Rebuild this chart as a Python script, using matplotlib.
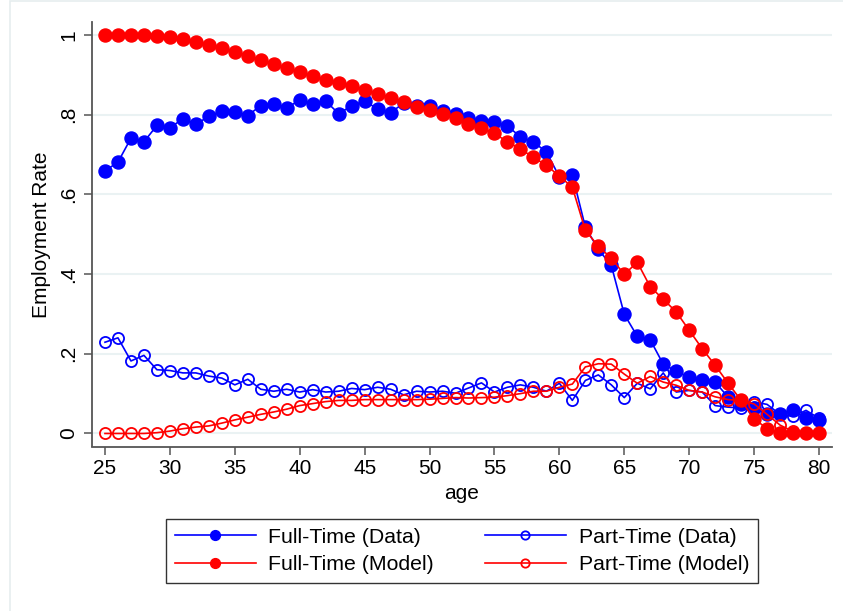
import matplotlib
matplotlib.use("Agg")
import matplotlib.pyplot as plt
from matplotlib.patches import Rectangle

ages = list(range(25, 81))

ft_data = [0.659, 0.681, 0.741, 0.732, 0.773, 0.767, 0.790, 0.776, 0.796, 0.809,
           0.808, 0.798, 0.823, 0.827, 0.818, 0.836, 0.827, 0.834, 0.803, 0.822,
           0.835, 0.814, 0.805, 0.829, 0.823, 0.822, 0.809, 0.803, 0.792, 0.783,
           0.781, 0.771, 0.745, 0.731, 0.707, 0.644, 0.649, 0.518, 0.462, 0.422,
           0.299, 0.244, 0.235, 0.174, 0.156, 0.141, 0.133, 0.129, 0.091, 0.075,
           0.063, 0.048, 0.050, 0.059, 0.038, 0.033]

ft_model = [1.000, 1.000, 1.000, 1.000, 0.998, 0.994, 0.989, 0.982, 0.975, 0.968,
            0.957, 0.948, 0.937, 0.927, 0.916, 0.906, 0.897, 0.887, 0.880, 0.873,
            0.863, 0.853, 0.843, 0.832, 0.820, 0.811, 0.803, 0.791, 0.776, 0.766,
            0.753, 0.732, 0.714, 0.693, 0.673, 0.646, 0.618, 0.510, 0.470, 0.440,
            0.399, 0.430, 0.368, 0.337, 0.305, 0.259, 0.213, 0.171, 0.126, 0.083,
            0.037, 0.012, 0.001, 0.001, 0.000, 0.000]

pt_data = [0.229, 0.240, 0.182, 0.196, 0.160, 0.158, 0.152, 0.152, 0.144, 0.139,
           0.122, 0.136, 0.111, 0.106, 0.111, 0.104, 0.110, 0.104, 0.106, 0.113,
           0.110, 0.116, 0.111, 0.097, 0.106, 0.104, 0.106, 0.101, 0.114, 0.127,
           0.104, 0.116, 0.122, 0.116, 0.106, 0.126, 0.083, 0.133, 0.147, 0.122,
           0.090, 0.126, 0.112, 0.152, 0.104, 0.108, 0.104, 0.070, 0.066, 0.064,
           0.079, 0.073, 0.048, 0.043, 0.058, 0.038]

pt_model = [0.000, 0.000, 0.000, 0.000, 0.002, 0.006, 0.012, 0.016, 0.019, 0.026,
            0.034, 0.041, 0.048, 0.054, 0.061, 0.070, 0.075, 0.080, 0.083, 0.083,
            0.085, 0.085, 0.085, 0.085, 0.085, 0.086, 0.088, 0.090, 0.089, 0.090,
            0.091, 0.095, 0.100, 0.106, 0.106, 0.116, 0.124, 0.167, 0.175, 0.174,
            0.149, 0.126, 0.143, 0.129, 0.121, 0.108, 0.104, 0.092, 0.085, 0.083,
            0.074, 0.048, 0.021, 0.005, 0.002, 0.000]

x_ticks = [25, 30, 35, 40, 45, 50, 55, 60, 65, 70, 75, 80]
y_ticks = [0, 0.2, 0.4, 0.6, 0.8, 1.0]
y_ticklabels = ["0", ".2", ".4", ".6", ".8", "1"]

plt.rcParams['font.family'] = ['Liberation Sans', 'DejaVu Sans']

fig = plt.figure(figsize=(8.43, 6.11), dpi=100)
fig.patches.append(Rectangle((10 / 843, -0.05), 1.2, 1 - 1 / 611 + 0.05,
                             transform=fig.transFigure, fill=False,
                             edgecolor='#e6edef', linewidth=1.2))

ax = fig.add_axes([92 / 843, 1 - 446.5 / 611, (832 - 92) / 843, (446.5 - 22) / 611])

BLUE = '#0000ff'
RED = '#ff0000'
lw = 1.2
ax.plot(ages, ft_data, color=BLUE, lw=lw, marker='o', ms=9.4, mfc=BLUE, mec=BLUE,
        label='Full-Time (Data)', zorder=3)
ax.plot(ages, pt_data, color=BLUE, lw=lw, marker='o', ms=8.0, mfc='none', mec=BLUE,
        mew=1.3, label='Part-Time (Data)', zorder=3)
ax.plot(ages, ft_model, color=RED, lw=lw, marker='o', ms=9.4, mfc=RED, mec=RED,
        label='Full-Time (Model)', zorder=4)
ax.plot(ages, pt_model, color=RED, lw=lw, marker='o', ms=8.0, mfc='none', mec=RED,
        mew=1.3, label='Part-Time (Model)', zorder=4)

ax.set_xlim(24.0, 81.0)
ax.set_ylim(-0.0327, 1.0327)
ax.set_xticks(x_ticks)
ax.set_yticks(y_ticks)
ax.set_yticklabels(y_ticklabels, rotation=90, va='center')
ax.tick_params(axis='both', labelsize=15, length=6, width=1.1, color='#555555', direction='out')
ax.tick_params(axis='y', pad=4)
ax.tick_params(axis='x', pad=3)

for s in ['top', 'right']:
    ax.spines[s].set_visible(False)
for s in ['left', 'bottom']:
    ax.spines[s].set_color('#555555')
    ax.spines[s].set_linewidth(1.3)

ax.grid(axis='y', color='#eaf2f3', linewidth=1.5, zorder=0)
ax.set_axisbelow(True)

ax.set_xlabel('age', fontsize=15, labelpad=4)
ax.set_ylabel('Employment Rate', fontsize=15, labelpad=6)

h, l = ax.get_legend_handles_labels()
order = [0, 2, 1, 3]
leg = fig.legend([h[i] for i in order], [l[i] for i in order], ncol=2,
                 loc='center', bbox_to_anchor=(462 / 843, 1 - 551 / 611),
                 fontsize=15.3, frameon=True, fancybox=False, edgecolor='black',
                 handlelength=3.8, handletextpad=0.6, columnspacing=2.4,
                 labelspacing=0.4, borderpad=0.4, markerscale=0.75)
leg.get_frame().set_linewidth(1.0)

fig.savefig('out.png', dpi=100)
